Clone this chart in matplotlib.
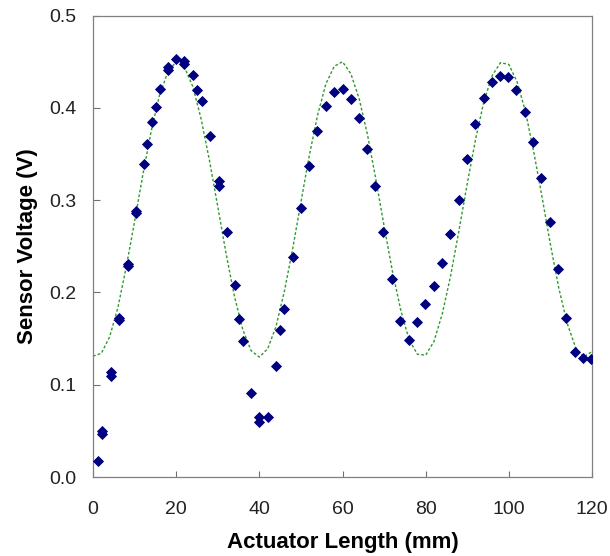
import matplotlib
matplotlib.use("Agg")
import matplotlib.pyplot as plt

plt.rcParams['font.family'] = ['Liberation Sans', 'DejaVu Sans']

# Measured sensor voltage (diamonds)
length_mm = [1.3, 2.2, 2.2, 4.25, 4.25, 6.2, 6.2, 8.3, 8.3, 10.3, 10.3,
             12.3, 13.1, 14.3, 15.2, 16.1, 18.0, 18.0, 20.0, 21.9, 21.9,
             24.0, 25.1, 26.1, 28.1, 30.2, 30.2, 32.1, 34.1, 35.1, 36.1,
             38.0, 40.0, 40.0, 42.1, 44.1, 45.0, 46.0, 48.0, 49.9, 51.9,
             53.9, 56.0, 58.0, 60.0, 62.0, 64.0, 65.9, 67.9, 69.8, 71.9,
             73.9, 75.9, 77.9, 79.9, 81.9, 83.9, 85.9, 87.9, 89.9, 91.9,
             94.0, 95.9, 97.9, 99.9, 101.8, 103.8, 105.8, 107.8, 109.8,
             111.8, 113.8, 115.8, 117.8, 119.8]
voltage = [0.017, 0.050, 0.047, 0.114, 0.109, 0.172, 0.170, 0.231, 0.229,
           0.288, 0.286, 0.339, 0.361, 0.385, 0.401, 0.420, 0.444, 0.441,
           0.453, 0.451, 0.448, 0.436, 0.419, 0.407, 0.369, 0.321, 0.315,
           0.266, 0.208, 0.171, 0.147, 0.091, 0.065, 0.060, 0.065, 0.120,
           0.159, 0.182, 0.238, 0.291, 0.337, 0.375, 0.402, 0.417, 0.420,
           0.410, 0.389, 0.355, 0.315, 0.266, 0.215, 0.169, 0.149, 0.168,
           0.188, 0.207, 0.232, 0.263, 0.300, 0.345, 0.382, 0.411, 0.428,
           0.435, 0.433, 0.419, 0.396, 0.363, 0.324, 0.276, 0.225, 0.172,
           0.136, 0.129, 0.128]

# Fitted curve (dotted green), read every 2 mm
fit_x = list(range(0, 121, 2))
fit_y = [0.131, 0.134, 0.152, 0.184, 0.228, 0.277, 0.328, 0.375, 0.414,
         0.439, 0.450, 0.444, 0.423, 0.388, 0.343, 0.293, 0.242, 0.196,
         0.160, 0.137, 0.130, 0.139, 0.163, 0.201, 0.247, 0.298, 0.348,
         0.392, 0.426, 0.445, 0.450, 0.437, 0.410, 0.371, 0.323, 0.272,
         0.223, 0.181, 0.149, 0.133, 0.132, 0.147, 0.177, 0.218, 0.267,
         0.318, 0.366, 0.407, 0.435, 0.449, 0.447, 0.428, 0.396, 0.352,
         0.303, 0.252, 0.205, 0.167, 0.141, 0.130, 0.136]

x_ticks = [0, 20, 40, 60, 80, 100, 120]
y_ticks = [0.0, 0.1, 0.2, 0.3, 0.4, 0.5]

fig = plt.figure(figsize=(6.10, 5.56), dpi=100)
ax = fig.add_axes([0.1525, 0.142, 0.818, 0.830])

ax.plot(fit_x, fit_y, linestyle=(0, (2, 1.5)), color='#2e9a2e', lw=1.0, zorder=2)
ax.plot(length_mm, voltage, linestyle='none', marker='D', ms=5.2,
        color='#000080', mec='#000080', mew=0.6, zorder=3)

ax.set_xlim(0, 120)
ax.set_ylim(0, 0.5)
ax.set_xticks(x_ticks)
ax.set_yticks(y_ticks)
ax.set_yticklabels(["%.1f" % v for v in y_ticks])

for side in ['left', 'right', 'top', 'bottom']:
  ax.spines[side].set_color('#808080')
  ax.spines[side].set_linewidth(0.9)

ax.tick_params(axis='x', direction='in', length=4.5, width=0.8, color='#707070',
               labelsize=14, labelcolor='#222222', pad=17)
ax.tick_params(axis='y', direction='in', length=5, width=0.8, color='#707070',
               labelsize=14, labelcolor='#222222', pad=12)

ax.set_xlabel("Actuator Length (mm)", fontsize=16, fontweight='bold', labelpad=10)
ax.set_ylabel("Sensor Voltage (V)", fontsize=16, fontweight='bold', labelpad=8)

fig.savefig("out.png", dpi=100)
